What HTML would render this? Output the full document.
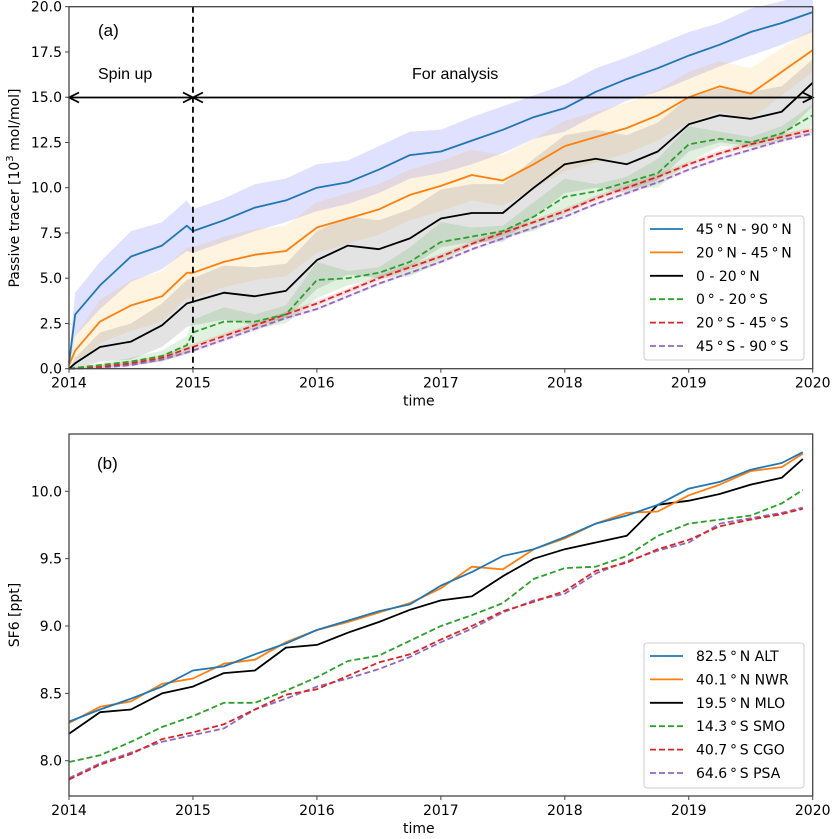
<!DOCTYPE html>
<html><head><meta charset="utf-8">
<style>
html,body{margin:0;padding:0;background:#fff;}
svg{display:block;font-family:"DejaVu Sans","Liberation Sans",sans-serif;}
</style></head>
<body>
<svg id="fig" width="833" height="839" viewBox="0 0 833 839" xmlns="http://www.w3.org/2000/svg"></svg>
<script>
// ---------- Panel (a) data ----------
const timesA = [2014.0,2014.05,2014.25,2014.5,2014.75,2014.95,2015.0,2015.25,2015.5,2015.75,2016.0,2016.25,2016.5,2016.75,2017.0,2017.25,2017.5,2017.75,2018.0,2018.25,2018.5,2018.75,2019.0,2019.25,2019.5,2019.75,2020.0];
const nh90 = [0.3,3.0,4.6,6.2,6.8,7.9,7.6,8.2,8.9,9.3,10.0,10.3,11.0,11.8,12.0,12.6,13.2,13.9,14.4,15.3,16.0,16.6,17.3,17.9,18.6,19.1,19.7];
const nh45 = [0.2,1.0,2.6,3.5,4.0,5.3,5.3,5.9,6.3,6.5,7.8,8.3,8.8,9.6,10.1,10.7,10.4,11.3,12.3,12.8,13.3,14.0,15.0,15.6,15.2,16.4,17.6];
const nh20 = [0.0,0.3,1.2,1.5,2.4,3.6,3.7,4.2,4.0,4.3,6.0,6.8,6.6,7.2,8.3,8.6,8.6,10.0,11.3,11.6,11.3,12.0,13.5,14.0,13.8,14.2,15.8];
const sh20 = [0.0,0.05,0.2,0.4,0.7,1.3,2.0,2.6,2.6,3.0,4.9,5.0,5.3,5.9,7.0,7.3,7.6,8.4,9.5,9.8,10.3,10.8,12.4,12.7,12.5,13.0,14.0];
const sh45 = [0.0,0.02,0.1,0.3,0.6,1.1,1.2,1.8,2.4,3.0,3.6,4.3,5.0,5.6,6.2,6.9,7.5,8.1,8.7,9.4,10.0,10.6,11.3,11.9,12.4,12.8,13.2];
const sh90 = [0.0,0.0,0.05,0.2,0.5,0.9,1.0,1.6,2.2,2.8,3.3,4.0,4.7,5.3,5.9,6.6,7.2,7.8,8.4,9.1,9.7,10.3,11.0,11.6,12.1,12.6,13.0];
const wNh90 = [0.3,1.2,1.3,1.4,1.3,1.4,1.2,1.2,1.3,1.2,1.3,1.2,1.3,1.3,1.2,1.3,1.3,1.2,1.3,1.3,1.2,1.3,1.3,1.2,1.3,1.2,1.1];
const wNh45 = [0.1,0.8,1.2,1.4,1.4,1.4,1.4,1.4,1.4,1.4,1.4,1.4,1.4,1.4,1.4,1.4,1.4,1.4,1.4,1.4,1.4,1.4,1.4,1.4,1.4,1.3,1.2];
const wNh20 = [0.0,0.3,0.8,1.0,1.2,1.3,1.3,1.5,1.6,1.5,1.6,1.6,1.6,1.6,1.6,1.6,1.6,1.6,1.6,1.6,1.6,1.6,1.5,1.5,1.5,1.4,1.3];
const wSh20 = [0.0,0.05,0.1,0.2,0.3,0.5,0.7,0.8,0.4,0.5,1.0,0.4,0.3,0.8,1.1,0.5,0.3,0.8,1.0,0.4,0.3,0.8,1.0,0.4,0.3,0.4,0.6];
const wSh45 = [0,0.05,0.1,0.12,0.15,0.15,0.15,0.15,0.15,0.15,0.15,0.15,0.15,0.15,0.15,0.15,0.15,0.15,0.15,0.15,0.15,0.15,0.15,0.15,0.15,0.15,0.15];
const wSh90 = [0,0.03,0.05,0.08,0.1,0.1,0.1,0.1,0.1,0.1,0.1,0.1,0.1,0.1,0.1,0.1,0.1,0.1,0.1,0.1,0.1,0.1,0.1,0.1,0.1,0.1,0.1];
const labelsA = ["45\u2009\u00b0\u2009N - 90\u2009\u00b0\u2009N","20\u2009\u00b0\u2009N - 45\u2009\u00b0\u2009N","0 - 20\u2009\u00b0\u2009N","0\u2009\u00b0  - 20\u2009\u00b0\u2009S","20\u2009\u00b0\u2009S - 45\u2009\u00b0\u2009S","45\u2009\u00b0\u2009S - 90\u2009\u00b0\u2009S"];
const yTicksA = [0,2.5,5,7.5,10,12.5,15,17.5,20];
const yTickLabelsA = ["0.0","2.5","5.0","7.5","10.0","12.5","15.0","17.5","20.0"];
const xTicks = [2014,2015,2016,2017,2018,2019,2020];
const xTickLabels = ["2014","2015","2016","2017","2018","2019","2020"];

// ---------- Panel (b) data ----------
const timesB = [2014.0,2014.25,2014.5,2014.75,2015.0,2015.25,2015.5,2015.75,2016.0,2016.25,2016.5,2016.75,2017.0,2017.25,2017.5,2017.75,2018.0,2018.25,2018.5,2018.75,2019.0,2019.25,2019.5,2019.75,2019.92];
const alt = [8.29,8.38,8.46,8.55,8.67,8.70,8.79,8.87,8.97,9.04,9.11,9.16,9.30,9.40,9.52,9.57,9.66,9.76,9.82,9.90,10.02,10.07,10.16,10.21,10.29];
const nwr = [8.28,8.40,8.44,8.57,8.61,8.72,8.75,8.88,8.97,9.03,9.10,9.17,9.28,9.44,9.42,9.57,9.65,9.76,9.84,9.85,9.97,10.05,10.15,10.18,10.28];
const mlo = [8.20,8.36,8.38,8.50,8.55,8.65,8.67,8.84,8.86,8.95,9.03,9.12,9.19,9.22,9.37,9.50,9.57,9.62,9.67,9.90,9.93,9.98,10.05,10.10,10.24];
const smo = [7.99,8.04,8.14,8.25,8.33,8.43,8.43,8.52,8.62,8.74,8.78,8.89,9.00,9.08,9.17,9.35,9.43,9.44,9.52,9.67,9.76,9.79,9.82,9.91,10.01];
const cgo = [7.86,7.97,8.05,8.16,8.21,8.27,8.38,8.49,8.53,8.63,8.73,8.79,8.90,9.00,9.11,9.18,9.26,9.41,9.47,9.57,9.64,9.74,9.79,9.83,9.87];
const psa = [7.87,7.98,8.06,8.14,8.19,8.24,8.38,8.46,8.55,8.61,8.68,8.77,8.88,8.98,9.10,9.19,9.24,9.39,9.48,9.56,9.62,9.76,9.80,9.84,9.88];
const labelsB = ["82.5\u2009\u00b0\u2009N ALT","40.1\u2009\u00b0\u2009N NWR","19.5\u2009\u00b0\u2009N MLO","14.3\u2009\u00b0\u2009S SMO","40.7\u2009\u00b0\u2009S CGO","64.6\u2009\u00b0\u2009S PSA"];
const yTicksB = [8.0,8.5,9.0,9.5,10.0];
const yTickLabelsB = ["8.0","8.5","9.0","9.5","10.0"];

const colors = ["#1f77b4","#ff7f0e","#000000","#2ca02c","#d62728","#9467bd"];
const bandFill = ["#0000ff","#ffa500","#808080","#2ca02c","#d62728","#9467bd"];
const bandOp = [0.12,0.12,0.22,0.15,0.15,0.15];
const dashed = [false,false,false,true,true,true];

const NS="http://www.w3.org/2000/svg";
const svg=document.getElementById('fig');
function el(tag,attrs,parent,text){const e=document.createElementNS(NS,tag);for(const k in attrs)e.setAttribute(k,attrs[k]);if(text!==undefined)e.textContent=text;(parent||svg).appendChild(e);return e;}

const X0=69,X1=812.7;
function xs(t){return X0+(t-2014)/6*(X1-X0);}
function ysA(v){return 368.7-(v-0)/20*(368.7-6.7);}
function ysB(v){return 760.7-(v-8)*134.7;}

function drawAxes(g,top,bot,ys,yt,ytl,title,titleY){
  el('rect',{x:X0,y:top,width:X1-X0,height:bot-top,fill:'none',stroke:'#444','stroke-width':1.3},g);
  xTicks.forEach((t,i)=>{
    const x=xs(t);
    el('line',{x1:x,y1:bot,x2:x,y2:bot+4,stroke:'#444'},g);
    const tx=el('text',{x:x,y:bot+19,'text-anchor':'middle','font-size':14,fill:'#000'},g,xTickLabels[i]);
    
    
  });
  yt.forEach((v,i)=>{
    const y=ys(v);
    el('line',{x1:X0-4,y1:y,x2:X0,y2:y,stroke:'#444'},g);
    const tx=el('text',{x:X0-7,y:y+5,'text-anchor':'end','font-size':14,fill:'#000'},g,ytl[i]);
    
    
  });
  const xt=el('text',{x:(X0+X1)/2-22,y:bot+37,'text-anchor':'middle','font-size':14},g,'time');
  
  
  const yT=el('text',{x:0,y:0,transform:`translate(19,${titleY}) rotate(-90)`,'text-anchor':'middle','font-size':14},g);
  yT.innerHTML=title;
  
  
}
function pathD(ts,vals,ys){return ts.map((t,i)=>(i?'L':'M')+xs(t).toFixed(1)+','+ys(vals[i]).toFixed(1)).join(' ');}
function bandD(ts,vals,w,ys){
  let d=ts.map((t,i)=>(i?'L':'M')+xs(t).toFixed(1)+','+ys(vals[i]+w[i]).toFixed(1)).join(' ');
  for(let i=ts.length-1;i>=0;i--)d+=' L'+xs(ts[i]).toFixed(1)+','+ys(Math.max(0,vals[i]-w[i])).toFixed(1);
  return d+' Z';
}
function legend(g,x,y,h,labels,name){
  const box=el('rect',{x:x,y:y,width:160,height:h,rx:3,fill:'#fff','fill-opacity':0.85,stroke:'#ccc'},g);
  
  
  labels.forEach((lb,i)=>{
    const yy=y+13+i*23.4;
    el('line',{x1:x+6,y1:yy,x2:x+39,y2:yy,stroke:colors[i],'stroke-width':1.8,'stroke-dasharray':dashed[i]?'6,3':'none'},g);
    const t=el('text',{x:x+52,y:yy+5,'font-size':14},g,lb);
    
    
  });
}

// ---------- Panel (a) ----------
const gA=el('g',{});


const seriesA=[nh90,nh45,nh20,sh20,sh45,sh90];
const widthsA=[wNh90,wNh45,wNh20,wSh20,wSh45,wSh90];
seriesA.forEach((s,i)=>{
  const b=el('path',{d:bandD(timesA,s,widthsA[i],ysA),fill:bandFill[i],'fill-opacity':bandOp[i],stroke:'none'},gA);
  
  
});
for(let i=seriesA.length-1;i>=0;i--){
  const p=el('path',{d:pathD(timesA,seriesA[i],ysA),fill:'none',stroke:colors[i],'stroke-width':1.8,'stroke-dasharray':dashed[i]?'6,3':'none','stroke-linejoin':'round'},gA);
  
  
}
// annotations
const xs15=xs(2015);
el('line',{x1:xs15,y1:6.7,x2:xs15,y2:368.7,stroke:'#000','stroke-width':1.8,'stroke-dasharray':'6,4'},gA);
el('line',{x1:X0,y1:97.5,x2:X1,y2:97.5,stroke:'#000','stroke-width':1.8},gA);
[[X0,1],[xs15,-1],[xs15,1],[X1,-1]].forEach(([x,dir])=>{
  el('path',{d:`M${x+dir*10},${92.5} L${x},97.5 L${x+dir*10},${102.5}`,fill:'none',stroke:'#000','stroke-width':1.8},gA);
});
const la=el('text',{x:98,y:36,'font-size':17,'font-family':'Liberation Sans, sans-serif'},gA,'(a)');

const su=el('text',{x:98,y:79,'font-size':16,'font-family':'Liberation Sans, sans-serif'},gA,'Spin up');

const fa=el('text',{x:412,y:79,'font-size':16,'font-family':'Liberation Sans, sans-serif'},gA,'For analysis');

drawAxes(gA,6.7,368.7,ysA,yTicksA,yTickLabelsA,'Passive tracer [10<tspan dy="-6" font-size="10">3</tspan><tspan dy="6"> mol/mol]</tspan>',188);
legend(gA,644,216,144,labelsA,'legend-a');

// ---------- Panel (b) ----------
const gB=el('g',{});


const seriesB=[alt,nwr,mlo,smo,cgo,psa];
for(let i=seriesB.length-1;i>=0;i--){
  const p=el('path',{d:pathD(timesB,seriesB[i],ysB),fill:'none',stroke:colors[i],'stroke-width':1.8,'stroke-dasharray':dashed[i]?'6,3':'none','stroke-linejoin':'round'},gB);
  
  
}
const lb=el('text',{x:97,y:469,'font-size':17,'font-family':'Liberation Sans, sans-serif'},gB,'(b)');

drawAxes(gB,434,796,ysB,yTicksB,yTickLabelsB,'SF6 [ppt]',615);
legend(gB,644,643,145,labelsB,'legend-b');
</script>
</body></html>
